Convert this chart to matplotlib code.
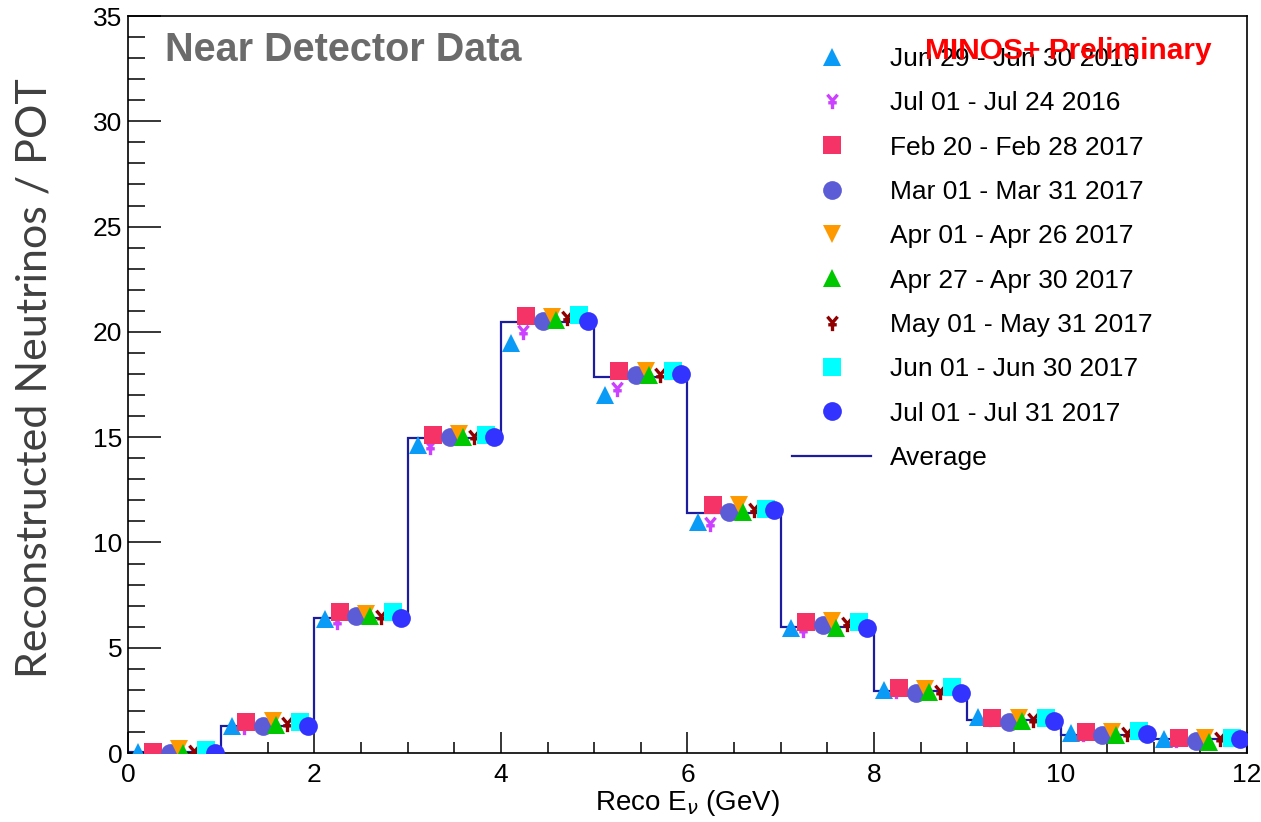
import matplotlib
matplotlib.use('Agg')
import matplotlib.pyplot as plt
from matplotlib.path import Path
from matplotlib.ticker import MultipleLocator
import numpy as np

plt.rcParams['font.family'] = ['Liberation Sans', 'DejaVu Sans']

# Energy bins (GeV)
bin_edges = [0, 1, 2, 3, 4, 5, 6, 7, 8, 9, 10, 11, 12]

# Average spectrum
average = [0.05, 1.30, 6.43, 14.94, 20.45, 17.84, 11.38, 6.00, 2.95, 1.58, 0.88, 0.68]

# Individual running periods (reconstructed neutrinos / POT per bin)
labels = ['Jun 29 - Jun 30 2016', 'Jul 01 - Jul 24 2016', 'Feb 20 - Feb 28 2017',
          'Mar 01 - Mar 31 2017', 'Apr 01 - Apr 26 2017', 'Apr 27 - Apr 30 2017',
          'May 01 - May 31 2017', 'Jun 01 - Jun 30 2017', 'Jul 01 - Jul 31 2017']
jun16 = [0.07, 1.30, 6.35, 14.62, 19.48, 17.00, 10.98, 5.93, 2.99, 1.72, 0.96, 0.66]
jul16 = [0.05, 1.26, 6.24, 14.55, 20.00, 17.30, 10.90, 5.84, 2.95, 1.62, 0.92, 0.64]
feb17 = [0.07, 1.46, 6.71, 15.10, 20.75, 18.14, 11.78, 6.24, 3.10, 1.68, 1.01, 0.70]
mar17 = [0.00, 1.30, 6.50, 14.99, 20.53, 17.95, 11.46, 6.08, 2.86, 1.49, 0.85, 0.59]
apr17a = [0.20, 1.50, 6.60, 15.15, 20.70, 18.15, 11.80, 6.25, 3.05, 1.65, 0.98, 0.72]
apr17b = [0.00, 1.33, 6.50, 14.99, 20.56, 17.95, 11.46, 5.92, 2.90, 1.53, 0.85, 0.54]
may17 = [0.07, 1.37, 6.45, 15.02, 20.65, 17.95, 11.54, 6.13, 2.90, 1.56, 0.92, 0.66]
jun17 = [0.14, 1.46, 6.71, 15.10, 20.80, 18.14, 11.60, 6.24, 3.15, 1.65, 1.04, 0.70]
jul17 = [0.00, 1.28, 6.40, 15.02, 20.54, 18.00, 11.54, 5.92, 2.83, 1.53, 0.92, 0.66]
series = [jun16, jul16, feb17, mar17, apr17a, apr17b, may17, jun17, jul17]

# ROOT-like "star" marker
yen = Path([(-0.6, 0.8), (0, 0.1), (0.6, 0.8), (0, 0.1), (0, 0.1), (0, -0.9),
            (-0.5, -0.15), (0.5, -0.15)],
           [Path.MOVETO, Path.LINETO, Path.MOVETO, Path.LINETO,
            Path.MOVETO, Path.LINETO, Path.MOVETO, Path.LINETO])

colors = ['#0a9bf7', '#cc40ff', '#f53366', '#5c5cd6', '#ff9900',
          '#00c800', '#900000', '#00ffff', '#3333ff']
markers = ['^', yen, 's', 'o', 'v', '^', yen, 's', 'o']
offsets = [0.11, 0.24, 0.27, 0.45, 0.55, 0.59, 0.71, 0.84, 0.93]

fig = plt.figure(figsize=(12.61, 8.22), dpi=100)
ax = fig.add_axes([0.1015, 0.0839, 0.8874, 0.8966])

ax.stairs(average, bin_edges, color='#1c1ca0', linewidth=1.6, zorder=2)

handles = []
lows = np.array(bin_edges[:-1], dtype=float)
for i, vals in enumerate(series):
    if markers[i] is yen:
        h, = ax.plot(lows + offsets[i], vals, linestyle='none', marker=yen,
                     markersize=11, markeredgewidth=2.4, color=colors[i], zorder=3)
    else:
        h, = ax.plot(lows + offsets[i], vals, linestyle='none', marker=markers[i],
                     markersize=13.5, markeredgewidth=0, color=colors[i], zorder=3)
    handles.append(h)

ax.set_xlim(0, 12)
ax.set_ylim(0, 35)
ax.xaxis.set_major_locator(MultipleLocator(2))
ax.xaxis.set_minor_locator(MultipleLocator(0.5))
ax.yaxis.set_major_locator(MultipleLocator(5))
ax.yaxis.set_minor_locator(MultipleLocator(1))
ax.tick_params(axis='both', which='both', direction='in', labelsize=19, width=1.1)
ax.tick_params(axis='y', which='major', length=24, pad=4)
ax.tick_params(axis='y', which='minor', length=12)
ax.tick_params(axis='x', which='major', length=15, pad=7)
ax.tick_params(axis='x', which='minor', length=8)
for s in ax.spines.values():
    s.set_linewidth(1.2)

ax.set_xlabel(r'Reco E$_{\nu}$ (GeV)', fontsize=20, labelpad=1)

fig.text(35 / 1261, 1 - 378 / 822, 'Reconstructed Neutrinos / POT', rotation=90,
         ha='center', va='center', fontsize=31, color='#404040', family=['Lato', 'DejaVu Sans'])

fig.text(165 / 1261, 1 - 61 / 822, 'Near Detector Data', fontsize=28.5, weight='bold',
         color='#6b6b6b', ha='left', va='baseline')

avg_handle, = ax.plot([], [], color='#1c1ca0', linewidth=1.6)
leg = ax.legend(handles + [avg_handle], labels + ['Average'], loc='upper left',
                bbox_to_anchor=(792 / 1261, 1 - 47 / 822), bbox_transform=fig.transFigure,
                frameon=False, fontsize=19, labelspacing=0.77, handlelength=3.0,
                handletextpad=0.7, borderaxespad=0, borderpad=0)

fig.text(925 / 1261, 1 - 59 / 822, 'MINOS+ Preliminary', fontsize=21.5, weight='bold',
         color='#ff0000', ha='left', va='baseline', zorder=10)

plt.savefig('out.png', dpi=100, facecolor='white')
plt.close()
